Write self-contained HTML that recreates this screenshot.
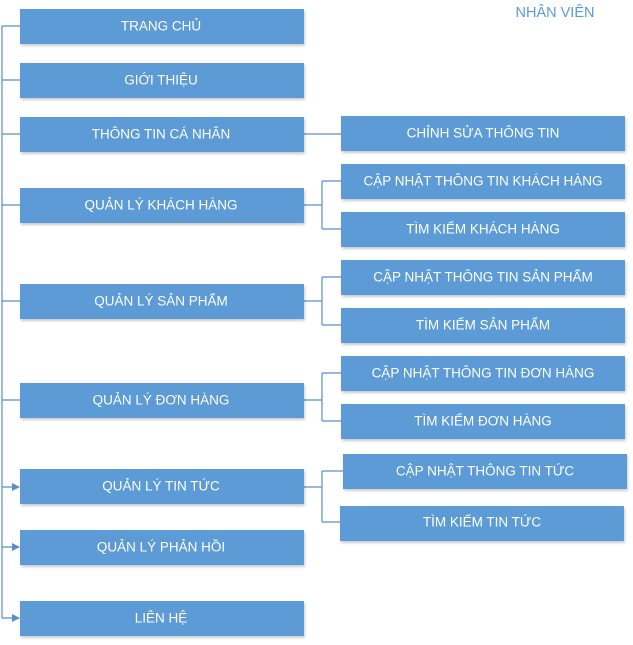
<!DOCTYPE html>
<html><head><meta charset="utf-8"><style>
html,body{margin:0;padding:0;background:#fff;}
svg{display:block}
text{font-family:"Liberation Sans",sans-serif;font-size:13.5px;fill:#fff;text-anchor:middle;dominant-baseline:central}
</style></head><body>
<svg width="633" height="645" viewBox="0 0 633 645" xmlns="http://www.w3.org/2000/svg">
<defs>
<filter id="sh" x="-5%" y="-20%" width="110%" height="150%"><feDropShadow dx="1" dy="2" stdDeviation="1.2" flood-color="#000" flood-opacity="0.2"/></filter>
<marker id="ar" markerWidth="8" markerHeight="8" refX="7" refY="4" orient="auto" markerUnits="userSpaceOnUse"><path d="M0,0 L8,4 L0,8 z" fill="#5b8fc4"/></marker>
</defs>
<g stroke="#5b8fc4" stroke-width="1.2" fill="none">
<path d="M2,26 V618"/>
<path d="M2,26 H20 M2,80 H20 M2,134 H20 M2,205 H20 M2,301 H20 M2,400 H20"/>
<path d="M2,487 H19" marker-end="url(#ar)"/>
<path d="M2,547 H19" marker-end="url(#ar)"/>
<path d="M2,618 H19" marker-end="url(#ar)"/>
<path d="M304,134 H341"/>
<path d="M304,205 H322 M322,181 V229 M322,181 H341 M322,229 H341"/>
<path d="M304,301 H322 M322,277 V325 M322,277 H341 M322,325 H341"/>
<path d="M304,400 H322 M322,373 V421 M322,373 H341 M322,421 H341"/>
<path d="M304,487 H322 M322,471 V522 M322,471 H343 M322,522 H341"/>
</g>
<g fill="#5b9bd5" filter="url(#sh)">
<rect x="20" y="9" width="284" height="35"/>
<rect x="20" y="63" width="284" height="35"/>
<rect x="20" y="117" width="284" height="35"/>
<rect x="20" y="188" width="284" height="35"/>
<rect x="20" y="284" width="284" height="35"/>
<rect x="20" y="383" width="284" height="35"/>
<rect x="20" y="469" width="284" height="35"/>
<rect x="20" y="530" width="284" height="35"/>
<rect x="20" y="601" width="284" height="35"/>
<rect x="341" y="116" width="284" height="35"/>
<rect x="341" y="164" width="284" height="35"/>
<rect x="341" y="212" width="284" height="35"/>
<rect x="341" y="260" width="284" height="35"/>
<rect x="341" y="308" width="284" height="35"/>
<rect x="341" y="356" width="284" height="35"/>
<rect x="341" y="404" width="284" height="35"/>
<rect x="343" y="454" width="284" height="35"/>
<rect x="340" y="506" width="284" height="35"/>
</g>
<text x="161" y="26">TRANG CHỦ</text>
<text x="161" y="80">GIỚI THIỆU</text>
<text x="161" y="134">THÔNG TIN CÁ NHÂN</text>
<text x="161" y="205">QUẢN LÝ KHÁCH HÀNG</text>
<text x="161" y="301">QUẢN LÝ SẢN PHẨM</text>
<text x="161" y="400">QUẢN LÝ ĐƠN HÀNG</text>
<text x="161" y="486">QUẢN LÝ TIN TỨC</text>
<text x="161" y="547">QUẢN LÝ PHẢN HỒI</text>
<text x="161" y="618">LIÊN HỆ</text>
<text x="483" y="133">CHỈNH SỬA THÔNG TIN</text>
<text x="483" y="181">CẬP NHẬT THÔNG TIN KHÁCH HÀNG</text>
<text x="483" y="229">TÌM KIẾM KHÁCH HÀNG</text>
<text x="483" y="277">CẬP NHẬT THÔNG TIN SẢN PHẨM</text>
<text x="483" y="325">TÌM KIẾM SẢN PHẨM</text>
<text x="483" y="373">CẬP NHẬT THÔNG TIN ĐƠN HÀNG</text>
<text x="483" y="421">TÌM KIẾM ĐƠN HÀNG</text>
<text x="485" y="471">CẬP NHẬT THÔNG TIN TỨC</text>
<text x="482" y="522">TÌM KIẾM TIN TỨC</text>
<text x="555" y="13" style="fill:#5b9bd5;font-size:14.5px">NHÂN VIÊN</text>
</svg>
</body></html>
